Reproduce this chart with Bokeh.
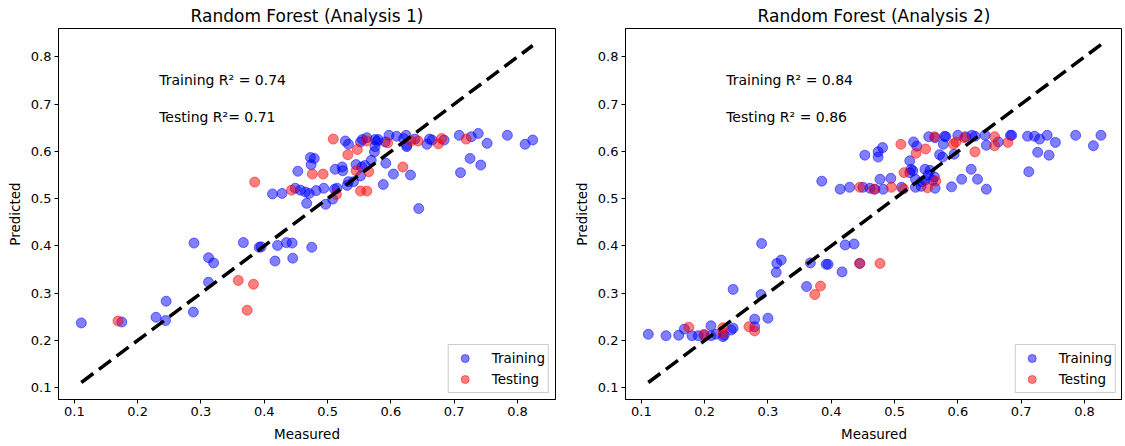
from bokeh.plotting import figure
from bokeh.layouts import row
from bokeh.models import Range1d, FixedTicker, Label
from bokeh.embed import file_html
from bokeh.resources import INLINE

# ---------------- data ----------------
titles = ["Random Forest (Analysis 1)", "Random Forest (Analysis 2)"]
r2_labels_1 = ["Training R\u00b2 = 0.74", "Testing R\u00b2= 0.71"]
r2_labels_2 = ["Training R\u00b2 = 0.84", "Testing R\u00b2 = 0.86"]
tick_values = [0.1, 0.2, 0.3, 0.4, 0.5, 0.6, 0.7, 0.8]
x_label = "Measured"
y_label = "Predicted"
legend_labels = ["Training", "Testing"]

train1_measured = [
    0.111, 0.175, 0.229, 0.244, 0.245, 0.288, 0.289, 0.312, 0.320, 0.312,
    0.367, 0.392, 0.395, 0.421, 0.435, 0.444, 0.417, 0.445, 0.475,
    0.413, 0.428, 0.449, 0.457, 0.465, 0.471, 0.482, 0.494, 0.467, 0.497,
    0.508, 0.453, 0.473, 0.479, 0.474, 0.512, 0.523, 0.524, 0.545, 0.554,
    0.559, 0.552, 0.541, 0.531, 0.533, 0.511, 0.515, 0.569, 0.588, 0.592,
    0.604, 0.631, 0.644, 0.710, 0.725, 0.742,
    0.528, 0.533, 0.552, 0.555, 0.562, 0.575, 0.578, 0.580, 0.575, 0.574,
    0.591, 0.597, 0.609, 0.620, 0.624, 0.625, 0.625, 0.638, 0.661, 0.665,
    0.657, 0.684, 0.708, 0.727, 0.738, 0.752, 0.784, 0.812, 0.824,
]
train1_predicted = [
    0.237, 0.239, 0.249, 0.242, 0.283, 0.260, 0.406, 0.375, 0.364, 0.323,
    0.407, 0.397, 0.398, 0.401, 0.407, 0.406, 0.368, 0.374, 0.397,
    0.510, 0.511, 0.522, 0.518, 0.514, 0.511, 0.517, 0.522, 0.490, 0.488,
    0.499, 0.558, 0.587, 0.585, 0.572, 0.562, 0.567, 0.559, 0.572, 0.567,
    0.570, 0.548, 0.536, 0.528, 0.536, 0.520, 0.522, 0.581, 0.530, 0.575,
    0.552, 0.550, 0.479, 0.555, 0.585, 0.571,
    0.622, 0.615, 0.620, 0.625, 0.629, 0.625, 0.621, 0.625, 0.610, 0.599,
    0.620, 0.634, 0.632, 0.627, 0.634, 0.613, 0.610, 0.626, 0.626, 0.624,
    0.615, 0.624, 0.634, 0.631, 0.638, 0.617, 0.634, 0.615, 0.624,
]
test1_measured = [
    0.169, 0.359, 0.383, 0.373, 0.385, 0.443, 0.476, 0.493, 0.514, 0.545,
    0.565, 0.552, 0.562, 0.532, 0.547, 0.509, 0.562, 0.595, 0.619, 0.632,
    0.643, 0.675, 0.680, 0.719,
]
test1_predicted = [
    0.241, 0.327, 0.319, 0.264, 0.535, 0.518, 0.552, 0.552, 0.509, 0.559,
    0.557, 0.516, 0.516, 0.593, 0.604, 0.626, 0.622, 0.618, 0.567, 0.622,
    0.622, 0.616, 0.627, 0.626,
]

train2_measured = [
    0.111, 0.139, 0.159, 0.168, 0.180, 0.190, 0.199, 0.210, 0.210, 0.218,
    0.229, 0.231, 0.242, 0.245, 0.245, 0.279, 0.279, 0.300, 0.289, 0.290,
    0.314, 0.321, 0.313, 0.361, 0.367, 0.392, 0.395, 0.417, 0.422, 0.436,
    0.445,
    0.385, 0.414, 0.429, 0.450, 0.461, 0.469, 0.482, 0.511, 0.533, 0.542,
    0.564, 0.590, 0.645, 0.477, 0.494, 0.533, 0.543, 0.548, 0.560, 0.606,
    0.631, 0.621, 0.526, 0.529, 0.524, 0.548, 0.556, 0.553, 0.563, 0.524,
    0.571, 0.576, 0.594, 0.712, 0.726, 0.744,
    0.453, 0.474, 0.474, 0.481, 0.530, 0.535, 0.577, 0.554, 0.564, 0.579,
    0.581, 0.600, 0.612, 0.622, 0.627, 0.643, 0.645, 0.664, 0.683, 0.685,
    0.710, 0.721, 0.729, 0.741, 0.754, 0.786, 0.826, 0.814,
]
train2_predicted = [
    0.213, 0.210, 0.211, 0.224, 0.210, 0.210, 0.211, 0.231, 0.210, 0.213,
    0.208, 0.211, 0.222, 0.226, 0.308, 0.245, 0.229, 0.247, 0.297, 0.405,
    0.363, 0.370, 0.344, 0.314, 0.364, 0.361, 0.361, 0.345, 0.402, 0.404,
    0.363,
    0.537, 0.520, 0.524, 0.524, 0.522, 0.520, 0.520, 0.524, 0.524, 0.526,
    0.522, 0.525, 0.520, 0.541, 0.543, 0.541, 0.536, 0.539, 0.539, 0.541,
    0.541, 0.562, 0.562, 0.559, 0.555, 0.562, 0.560, 0.550, 0.546, 0.580,
    0.593, 0.588, 0.594, 0.557, 0.598, 0.592,
    0.592, 0.599, 0.588, 0.608, 0.620, 0.611, 0.615, 0.631, 0.629, 0.632,
    0.631, 0.634, 0.631, 0.634, 0.632, 0.634, 0.613, 0.620, 0.634, 0.634,
    0.632, 0.632, 0.626, 0.634, 0.619, 0.634, 0.634, 0.612,
]
test2_measured = [
    0.175, 0.199, 0.229, 0.229, 0.270, 0.279, 0.374, 0.383, 0.445, 0.477,
    0.445, 0.467, 0.495, 0.514, 0.515, 0.552, 0.565, 0.510, 0.534, 0.549,
    0.563, 0.593, 0.597, 0.610, 0.627, 0.658, 0.658, 0.679,
]
test2_predicted = [
    0.228, 0.213, 0.227, 0.216, 0.229, 0.220, 0.297, 0.315, 0.363, 0.363,
    0.524, 0.520, 0.524, 0.521, 0.555, 0.523, 0.537, 0.615, 0.596, 0.605,
    0.631, 0.615, 0.620, 0.629, 0.599, 0.631, 0.612, 0.619,
]

FONT = "DejaVu Sans"


def make_panel(title, mtr, ptr, mte, pte, r2_labels, b_left, b_right, f_width):
    p = figure(
        title=title, output_backend="svg", toolbar_location=None,
        frame_width=f_width, frame_height=371,
        min_border_left=b_left, min_border_right=b_right,
        min_border_top=25, min_border_bottom=45,
        x_range=Range1d(0.075, 0.86), y_range=Range1d(0.075, 0.86),
    )
    p.title.text_font = FONT
    p.title.text_font_size = "17px"
    p.title.text_font_style = "normal"
    p.title.align = "center"
    p.title.standoff = 6
    p.title.text_color = "black"

    p.xgrid.visible = False
    p.ygrid.visible = False
    p.outline_line_color = "black"
    p.outline_line_width = 1
    p.outline_line_alpha = 1
    p.background_fill_color = "white"
    p.border_fill_color = "white"

    for ax, lab in ((p.xaxis[0], x_label), (p.yaxis[0], y_label)):
        ax.ticker = FixedTicker(ticks=tick_values)
        ax.axis_label = lab
        ax.axis_label_text_font = FONT
        ax.axis_label_text_font_size = "13.5px"
        ax.axis_label_text_font_style = "normal"
        ax.axis_label_text_color = "black"
        ax.axis_label_standoff = 7
        ax.major_label_text_font = FONT
        ax.major_label_text_font_size = "13px"
        ax.major_label_text_color = "black"
        ax.major_label_standoff = 3
        ax.major_tick_out = 4
        ax.major_tick_in = 0
        ax.minor_tick_out = 0
        ax.minor_tick_in = 0
        ax.axis_line_color = "black"
        ax.major_tick_line_color = "black"
    p.yaxis[0].axis_label_standoff = 5

    p.scatter(mtr, ptr, marker="circle", size=10, fill_color="blue", line_color="blue",
              fill_alpha=0.5, line_alpha=0.5, legend_label=legend_labels[0])
    p.scatter(mte, pte, marker="circle", size=10, fill_color="red", line_color="red",
              fill_alpha=0.5, line_alpha=0.5, legend_label=legend_labels[1])

    lo = min(mtr + mte)
    hi = max(mtr + mte)
    p.line([lo, hi], [lo, hi], line_color="black", line_width=3.5, line_dash="15 7")

    p.add_layout(Label(x=0.234, y=0.751, text=r2_labels[0], text_font=FONT,
                       text_font_size="14px", text_color="black",
                       text_baseline="alphabetic"))
    p.add_layout(Label(x=0.234, y=0.672, text=r2_labels[1], text_font=FONT,
                       text_font_size="14px", text_color="black",
                       text_baseline="alphabetic"))

    lg = p.legend[0]
    lg.location = "bottom_right"
    lg.label_text_font = FONT
    lg.label_text_font_size = "13.5px"
    lg.label_text_color = "black"
    lg.border_line_color = "#cccccc"
    lg.border_line_alpha = 1
    lg.background_fill_alpha = 0.8
    lg.margin = 6
    lg.padding = 3
    lg.spacing = 1
    lg.label_standoff = 14
    lg.glyph_width = 26
    lg.label_height = 20
    lg.glyph_height = 20
    return p


p1 = make_panel(titles[0], train1_measured, train1_predicted, test1_measured,
                test1_predicted, r2_labels_1, 58, 10, 497)
p2 = make_panel(titles[1], train2_measured, train2_predicted, test2_measured,
                test2_predicted, r2_labels_2, 60, 0, 497)

layout = row(p1, p2)
open("out.html", "w").write(file_html(layout, INLINE))
